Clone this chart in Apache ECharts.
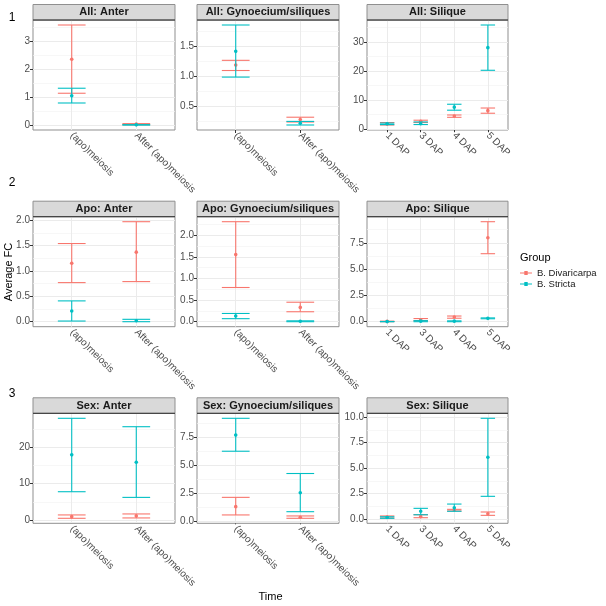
<!DOCTYPE html>
<html>
<head>
<meta charset="utf-8">
<script src="https://cdn.jsdelivr.net/npm/echarts@6/dist/echarts.min.js"></script>
<style>html,body{margin:0;padding:0;background:#fff}#c{width:606px;height:606px}</style>
</head>
<body>
<div id="c"></div>
<script>
// ---- Data ----
const anterCats = ['(apo)meiosis', 'After (apo)meiosis'];
const siliqueCats = ['1 DAP', '3 DAP', '4 DAP', '5 DAP'];
const groupNames = ['B. Divaricarpa', 'B. Stricta'];
const panelTitles = ['All: Anter', 'All: Gynoecium/siliques', 'All: Silique',
  'Apo: Anter', 'Apo: Gynoecium/siliques', 'Apo: Silique',
  'Sex: Anter', 'Sex: Gynoecium/siliques', 'Sex: Silique'];
const rowLabels = ['1', '2', '3'];

// each entry: [mean, low, high] per category
const allAnterDiv = [[2.36, 1.14, 3.59], [0.03, 0.01, 0.05]];
const allAnterStr = [[1.05, 0.79, 1.32], [0.005, 0.0, 0.01]];
const allGynDiv = [[1.19, 1.10, 1.27], [0.28, 0.24, 0.32]];
const allGynStr = [[1.42, 0.99, 1.86], [0.22, 0.19, 0.25]];
const allSilDiv = [[1.83, 1.45, 2.3], [2.75, 2.3, 3.1], [4.55, 4.1, 4.9], [6.4, 5.5, 7.3]];
const allSilStr = [[1.9, 1.6, 2.1], [1.9, 1.6, 2.5], [7.6, 6.55, 8.6], [28.1, 20.3, 35.9]];
const apoAnterDiv = [[1.15, 0.77, 1.54], [1.37, 0.79, 1.97]];
const apoAnterStr = [[0.21, 0.013, 0.41], [0.02, 0.0, 0.047]];
const apoGynDiv = [[1.55, 0.79, 2.31], [0.33, 0.23, 0.45]];
const apoGynStr = [[0.13, 0.07, 0.19], [0.01, 0.0, 0.02]];
const apoSilDiv = [[0.03, 0.0, 0.05], [0.19, 0.1, 0.3], [0.45, 0.33, 0.54], [7.98, 6.46, 9.5]];
const apoSilStr = [[0.01, 0.0, 0.02], [0.05, 0.0, 0.1], [0.05, 0.0, 0.08], [0.32, 0.28, 0.36]];
const sexAnterDiv = [[1.0, 0.55, 1.47], [1.2, 0.65, 1.74]];
const sexAnterStr = [[17.9, 7.82, 27.9], [15.9, 6.27, 25.6]];
const sexGynDiv = [[1.31, 0.57, 2.14], [0.36, 0.27, 0.48]];
const sexGynStr = [[7.7, 6.26, 9.2], [2.55, 0.86, 4.27]];
const sexSilDiv = [[0.2, 0.1, 0.3], [0.23, 0.13, 0.42], [0.88, 0.79, 0.95], [0.52, 0.36, 0.69]];
const sexSilStr = [[0.15, 0.07, 0.22], [0.76, 0.42, 1.05], [1.11, 0.76, 1.47], [6.07, 2.23, 9.9]];

// y tick labels per panel
const ticksAllAnter = ['0', '1', '2', '3'];
const ticksAllGyn = ['0.5', '1.0', '1.5'];
const ticksAllSil = ['0', '10', '20', '30'];
const ticksApoAnter = ['0.0', '0.5', '1.0', '1.5', '2.0'];
const ticksApoGyn = ['0.0', '0.5', '1.0', '1.5', '2.0'];
const ticksApoSil = ['0.0', '2.5', '5.0', '7.5'];
const ticksSexAnter = ['0', '10', '20'];
const ticksSexGyn = ['0.0', '2.5', '5.0', '7.5'];
const ticksSexSil = ['0.0', '2.5', '5.0', '7.5', '10.0'];

// ---- Build ----
const panels = [
  [anterCats, allAnterDiv, allAnterStr, ticksAllAnter],
  [anterCats, allGynDiv, allGynStr, ticksAllGyn],
  [siliqueCats, allSilDiv, allSilStr, ticksAllSil],
  [anterCats, apoAnterDiv, apoAnterStr, ticksApoAnter],
  [anterCats, apoGynDiv, apoGynStr, ticksApoGyn],
  [siliqueCats, apoSilDiv, apoSilStr, ticksApoSil],
  [anterCats, sexAnterDiv, sexAnterStr, ticksSexAnter],
  [anterCats, sexGynDiv, sexGynStr, ticksSexGyn],
  [siliqueCats, sexSilDiv, sexSilStr, ticksSexSil]
];
const colors = ['#F8766D', '#00BFC4'];
const FONT = 'Liberation Sans, Arial, sans-serif';
const colLeft = [33, 197, 367];
const colWidth = [142, 142, 141];
const rowTop = [20, 216.7, 413.3];
const panelH = 110;
const stripH = 15.5;
const barHalf = 0.215;

const grids = [], xAxes = [], yAxes = [], series = [], graphics = [];

panels.forEach((p, i) => {
  const [cats, div, str, tickLabels] = p;
  const r = Math.floor(i / 3), c = i % 3;
  const n = cats.length;
  const allVals = div.concat(str).flat();
  const lo = Math.min(...allVals), hi = Math.max(...allVals);
  const R = hi - lo;
  const yMin = lo - 0.05 * R, yMax = hi + 0.05 * R;
  const ticks = tickLabels.map(Number);
  const step = ticks[1] - ticks[0];
  const minors = [];
  for (let k = -1; k < ticks.length; k++) {
    const v = ticks[0] + (k + 0.5) * step;
    if (v > yMin && v < yMax) minors.push(v);
  }
  const xs = cats.map((_, k) => k + 1);

  grids.push({left: colLeft[c], top: rowTop[r], width: colWidth[c], height: panelH,
    show: true, borderColor: '#8f8f8f', borderWidth: 1, backgroundColor: '#fff'});
  xAxes.push({type: 'value', gridIndex: i, min: 0.4, max: n + 0.6,
    axisLine: {show: false}, splitLine: {show: false},
    axisTick: {show: true, customValues: xs, length: 3, lineStyle: {color: '#333', width: 1}},
    axisLabel: {customValues: xs, formatter: v => cats[Math.round(v) - 1], rotate: -45,
      fontSize: 10, color: '#4d4d4d', margin: 4, fontFamily: FONT}});
  yAxes.push({type: 'value', gridIndex: i, min: yMin, max: yMax,
    axisLine: {show: false}, splitLine: {show: false},
    axisTick: {show: true, customValues: ticks, length: 3, lineStyle: {color: '#333', width: 1}},
    axisLabel: {customValues: ticks, formatter: v => {
      let best = 0; ticks.forEach((t, k) => { if (Math.abs(t - v) < Math.abs(ticks[best] - v)) best = k; });
      return tickLabels[best]; }, fontSize: 10, color: '#4d4d4d', margin: 3, fontFamily: FONT}});

  const ml = [];
  minors.forEach(v => ml.push({yAxis: v, lineStyle: {color: '#F3F3F3', width: 0.7, type: 'solid'}}));
  ticks.forEach(v => ml.push({yAxis: v, lineStyle: {color: '#EBEBEB', width: 1, type: 'solid'}}));
  xs.forEach(v => ml.push({xAxis: v, lineStyle: {color: '#EBEBEB', width: 1, type: 'solid'}}));
  series.push({type: 'line', xAxisIndex: i, yAxisIndex: i, data: [], z: 1, silent: true,
    markLine: {silent: true, z: 1, symbol: ['none', 'none'], label: {show: false}, animation: false, data: ml}});

  [div, str].forEach((g, gi) => {
    const color = colors[gi];
    series.push({type: 'custom', name: groupNames[gi], xAxisIndex: i, yAxisIndex: i, z: 20 + gi,
      itemStyle: {color: color},
      data: g.map((d, k) => [k + 1, d[0], d[1], d[2]]),
      renderItem: (params, api) => {
        const x = api.value(0);
        const pm = api.coord([x, api.value(1)]);
        const pl = api.coord([x, api.value(2)]);
        const ph = api.coord([x, api.value(3)]);
        const xl = api.coord([x - barHalf, api.value(2)])[0];
        const xr = api.coord([x + barHalf, api.value(2)])[0];
        const st = {stroke: color, lineWidth: 1.1, fill: null};
        return {type: 'group', children: [
          {type: 'line', shape: {x1: pl[0], y1: ph[1], x2: pl[0], y2: pl[1]}, style: st},
          {type: 'line', shape: {x1: xl, y1: ph[1], x2: xr, y2: ph[1]}, style: st},
          {type: 'line', shape: {x1: xl, y1: pl[1], x2: xr, y2: pl[1]}, style: st},
          {type: 'circle', shape: {cx: pm[0], cy: pm[1], r: 1.8}, style: {fill: color}}
        ]};
      }
    });
  });

  // strip
  graphics.push({type: 'rect', shape: {x: colLeft[c], y: rowTop[r] - stripH, width: colWidth[c], height: stripH},
    style: {fill: '#D9D9D9', stroke: '#8f8f8f', lineWidth: 1}, z: 10});
  graphics.push({type: 'line', shape: {x1: colLeft[c], y1: rowTop[r], x2: colLeft[c] + colWidth[c], y2: rowTop[r]},
    style: {stroke: '#333', lineWidth: 1}, z: 11});
  graphics.push({type: 'text', x: colLeft[c] + colWidth[c] / 2, y: rowTop[r] - stripH / 2, z: 12,
    style: {text: panelTitles[i], fill: '#1a1a1a', font: 'bold 11px ' + FONT, align: 'center', verticalAlign: 'middle'}});
});

rowLabels.forEach((t, k) => {
  graphics.push({type: 'text', x: 12, y: [18, 183, 394][k], z: 12,
    style: {text: t, fill: '#000', font: '12px ' + FONT, align: 'center', verticalAlign: 'middle'}});
});
graphics.push({type: 'text', x: 9, y: 272, rotation: Math.PI / 2, z: 12,
  style: {text: 'Average FC', fill: '#000', font: '11px ' + FONT, align: 'center', verticalAlign: 'middle'}});
graphics.push({type: 'text', x: 270.5, y: 597, z: 12,
  style: {text: 'Time', fill: '#000', font: '11px ' + FONT, align: 'center', verticalAlign: 'middle'}});
graphics.push({type: 'text', x: 520, y: 258, z: 12,
  style: {text: 'Group', fill: '#000', font: '11px ' + FONT, align: 'left', verticalAlign: 'middle'}});

const iconPath = 'path://M0,2.5H12V3.5H0Z M4.3,1H7.7V5H4.3Z';
const option = {
  animation: false,
  grid: grids, xAxis: xAxes, yAxis: yAxes, series: series,
  graphic: graphics,
  legend: {left: 520, top: 268, orient: 'vertical', itemWidth: 12, itemHeight: 6, itemGap: 1,
    padding: 0,
    textStyle: {fontSize: 9.5, color: '#1a1a1a', fontFamily: FONT},
    data: groupNames.map((n, k) => ({name: n, icon: iconPath, itemStyle: {color: colors[k]}}))}
};
const chart = echarts.init(document.getElementById('c'), null, {renderer: 'canvas'});
chart.setOption(option);
</script>
</body>
</html>
